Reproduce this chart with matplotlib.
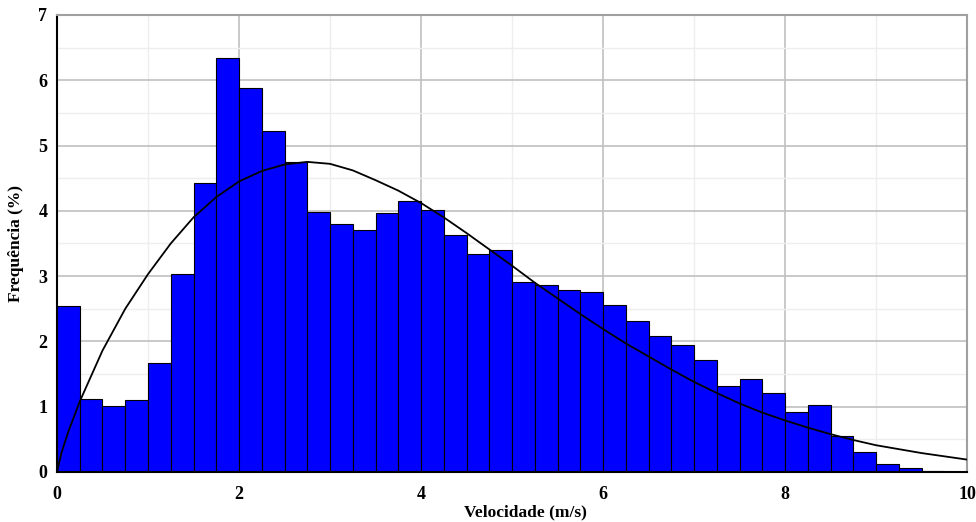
import numpy as np
import matplotlib
matplotlib.use("Agg")
import matplotlib.pyplot as plt
from matplotlib.ticker import MultipleLocator

# Wind speed histogram, 0.25 m/s bins from 0 to 10 m/s
bin_width = 0.25
bin_left = np.arange(0, 10, bin_width)
frequency = [2.54, 1.12, 1.01, 1.10, 1.67, 3.03, 4.43, 6.34, 5.88, 5.22,
             4.75, 3.98, 3.80, 3.71, 3.97, 4.15, 4.01, 3.63, 3.34, 3.40,
             2.91, 2.86, 2.79, 2.76, 2.56, 2.31, 2.08, 1.94, 1.72, 1.32,
             1.42, 1.21, 0.92, 1.03, 0.55, 0.31, 0.12, 0.06, 0.02, 0.0]

# Fitted distribution curve
fit_speed = [0.0, 0.05, 0.125, 0.25, 0.5, 0.75, 1.0, 1.25, 1.5, 1.75, 2.0,
             2.25, 2.5, 2.75, 3.0, 3.25, 3.5, 3.75, 4.0, 4.25, 4.5, 4.75,
             5.0, 5.25, 5.5, 5.75, 6.0, 6.25, 6.5, 6.75, 7.0, 7.25, 7.5,
             7.75, 8.0, 8.25, 8.5, 8.75, 9.0, 9.25, 9.5, 9.75, 10.0]
fit_frequency = [0.0, 0.30, 0.62, 1.08, 1.86, 2.50, 3.03, 3.50, 3.90, 4.21,
                 4.45, 4.61, 4.71, 4.75, 4.72, 4.62, 4.47, 4.31, 4.12, 3.90,
                 3.66, 3.41, 3.16, 2.90, 2.66, 2.42, 2.19, 1.97, 1.77, 1.57,
                 1.38, 1.21, 1.05, 0.91, 0.79, 0.68, 0.58, 0.49, 0.41, 0.35,
                 0.29, 0.24, 0.19]

x_ticks = [0, 2, 4, 6, 8, 10]
y_ticks = [0, 1, 2, 3, 4, 5, 6, 7]

serif = ["Liberation Serif", "DejaVu Serif"]

fig = plt.figure(figsize=(9.76, 5.22), dpi=100)
ax = fig.add_axes([0.0584, 0.0958, 0.9324, 0.8755])

ax.bar(bin_left, frequency, width=bin_width, align="edge",
       color="#0000ff", edgecolor="black", linewidth=0.8, zorder=2)
ax.plot(fit_speed, fit_frequency, color="black", linewidth=1.3, zorder=3)

ax.set_xlim(0, 10)
ax.set_ylim(0, 7)
ax.set_xticks(x_ticks)
ax.set_yticks(y_ticks)
ax.xaxis.set_minor_locator(MultipleLocator(1))
ax.yaxis.set_minor_locator(MultipleLocator(0.5))
ax.grid(which="major", color="#c0c0c0", linewidth=1.2, zorder=0)
ax.grid(which="minor", color="#eeeeee", linewidth=1.0, zorder=0)
ax.set_axisbelow(True)

ax.tick_params(which="both", length=0)
ax.tick_params(axis="x", pad=10)
ax.tick_params(axis="y", pad=7)
for lab in ax.get_xticklabels() + ax.get_yticklabels():
    lab.set_family(serif)
    lab.set_fontweight("bold")
    lab.set_fontsize(13)

for side in ["top", "right"]:
    ax.spines[side].set_color("#a0a0a0")
    ax.spines[side].set_linewidth(1.5)
for side in ["left", "bottom"]:
    ax.spines[side].set_color("black")
    ax.spines[side].set_linewidth(1.5)

ax.set_xlabel("Velocidade (m/s)", family=serif, fontweight="bold",
              fontsize=12.5)
ax.xaxis.set_label_coords(0.515, -0.07)
ax.set_ylabel("Frequência (%)", family=serif, fontweight="bold",
              fontsize=12.5, labelpad=10)

fig.savefig("out.png", dpi=100)
